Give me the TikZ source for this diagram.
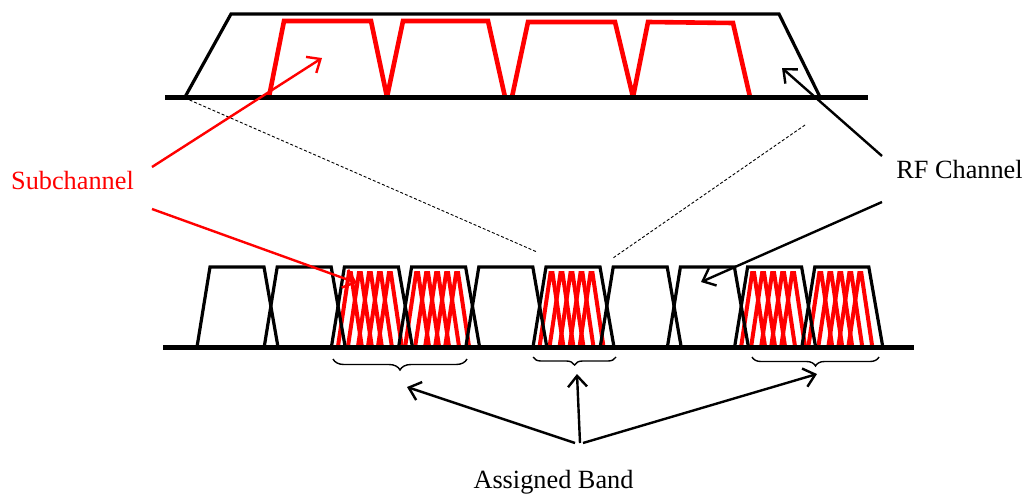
\documentclass[tikz,border=0pt]{standalone}
\usepackage{fontspec}
\setmainfont{Liberation Serif}
\usetikzlibrary{arrows.meta,decorations.pathreplacing}
\begin{document}
\begin{tikzpicture}[x=1pt,y=-1pt,
  baseline line/.style={line width=5pt},
  chan/.style={line width=3.2pt},
  subtop/.style={red, line width=4.6pt, miter limit=2},
  subsm/.style={red, line width=4pt, miter limit=2},
  arr/.style={line width=2.4pt, -{Straight Barb[length=11pt,width=19pt,line width=2.4pt]}},
  guide/.style={line width=0.9pt, dash pattern=on 3pt off 2pt},
  brc/.style={line width=1.4pt, decorate, decoration={brace, mirror, amplitude=#1}},
  lbl/.style={font=\fontsize{26.3}{30}\selectfont, inner sep=0pt, anchor=base},
]
\useasboundingbox (0,0) rectangle (1027,493);

% ---------- top spectrum ----------
\draw[chan] (185,97) -- (231,14) -- (779,14) -- (820,97);
\draw[subtop] (269,97) -- (284,21) -- (371,21) -- (387,97) -- (403,21) -- (488,21) -- (505,97);
\draw[subtop] (512,97) -- (528,22) -- (615,22) -- (633,97) -- (648,22) -- (733,23) -- (750,97);
\draw[baseline line] (165,97) -- (868,97);

% ---------- guide lines ----------
\coordinate (g1a) at (185,98);
\coordinate (g1b) at (537,252);
\coordinate (g2a) at (805,125);
\coordinate (g2b) at (613,258);
\draw[guide] (g1a) -- (g1b);
\draw[guide] (g2a) -- (g2b);

% ---------- bottom spectrum ----------
\foreach \k in {2,3,5,8,9}{
  \foreach \j in {0,...,4}{
    \pgfmathsetmacro{\rx}{197+67.2*\k+6.5+10*\j}
    \draw[subsm] (\rx,347) -- (\rx+11,273) -- (\rx+13,273) -- (\rx+24,347);
  }
}
\foreach \k in {0,...,9}{
  \pgfmathsetmacro{\bx}{197+67.2*\k}
  \draw[chan] (\bx,347) -- (\bx+13,267) -- (\bx+67,267) -- (\bx+81,347);
}
\draw[baseline line] (163,347) -- (914,347);

% ---------- braces ----------
\coordinate (b1l) at (333,359);
\coordinate (b1r) at (467,359);
\coordinate (b2l) at (533,357);
\coordinate (b2r) at (616,357);
\coordinate (b3l) at (752,357);
\coordinate (b3r) at (879,357);
\draw[brc=11pt] (b1l) -- (b1r);
\draw[brc=8pt] (b2l) -- (b2r);
\draw[brc=9pt] (b3l) -- (b3r);

% ---------- labels ----------
\node[lbl, red] (sub) at (72.5,189) {Subchannel};
\node[lbl] (rf) at (959.5,178) {RF Channel};
\node[lbl] (ab) at (553.5,488) {Assigned Band};

% ---------- connectors ----------
\coordinate (s1) at (152,167);
\coordinate (s1t) at (322,58);
\coordinate (s2) at (152,209);
\coordinate (s2t) at (357,283);
\draw[arr, red] (s1) -- (s1t);
\draw[arr, red] (s2) -- (s2t);

\coordinate (r1) at (882,156);
\coordinate (r1t) at (782,68);
\coordinate (r2) at (882,202);
\coordinate (r2t) at (701,282);
\draw[arr] (r1) -- (r1t);
\draw[arr] (r2) -- (r2t);

\coordinate (a0) at (575,443);
\coordinate (a1) at (580,443);
\coordinate (a2) at (583,443);
\coordinate (a0t) at (407,387);
\coordinate (a1t) at (577,374);
\coordinate (a2t) at (817,374);
\draw[arr] (a0) -- (a0t);
\draw[arr] (a1) -- (a1t);
\draw[arr] (a2) -- (a2t);
\end{tikzpicture}
\end{document}
